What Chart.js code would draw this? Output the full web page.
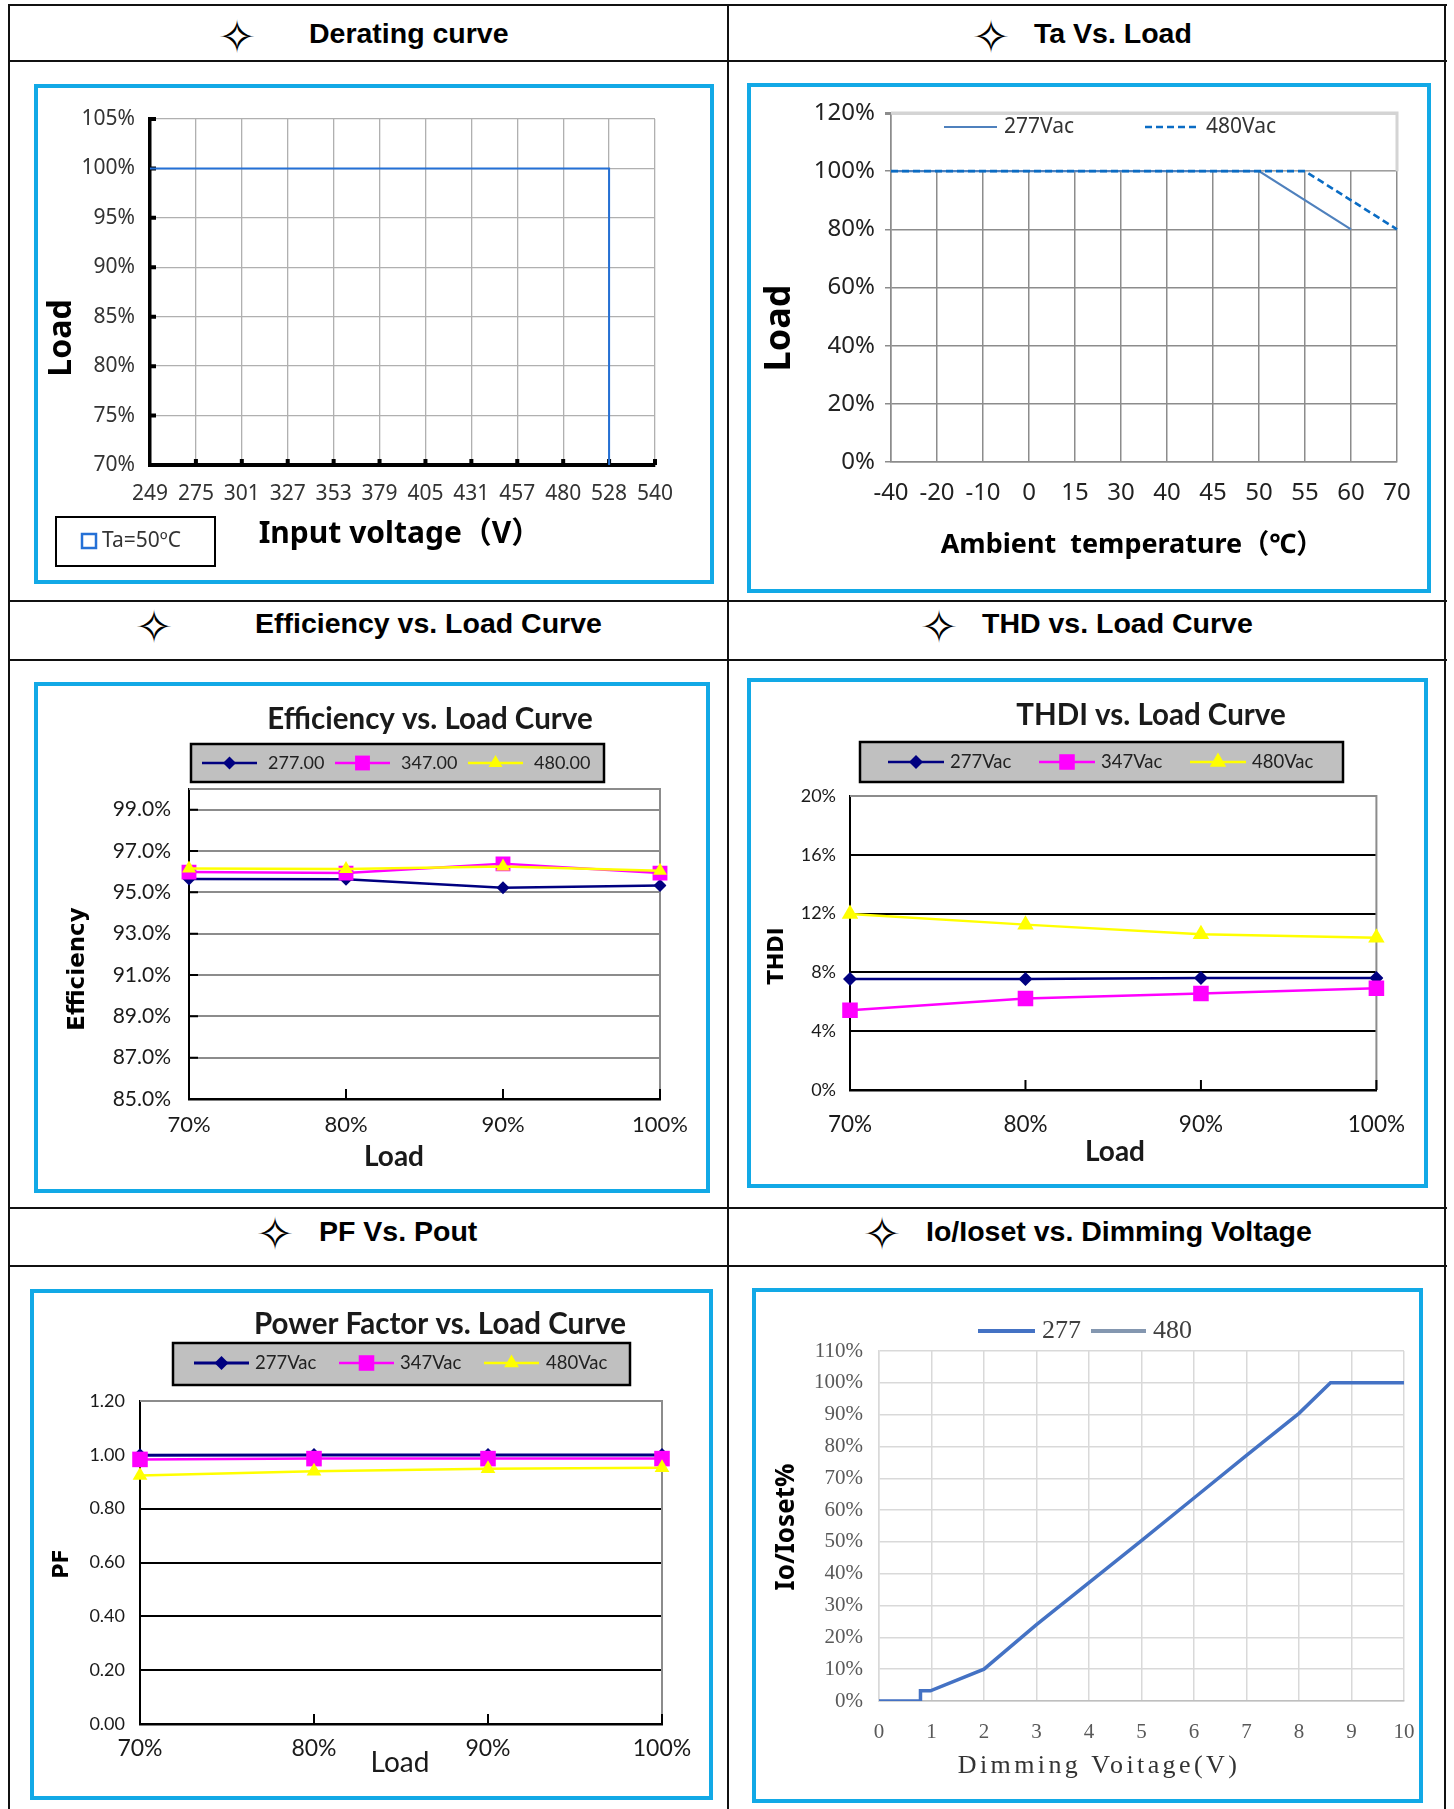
<!DOCTYPE html>
<html>
<head>
<meta charset="utf-8">
<title>Driver curves</title>
<script src="https://cdn.jsdelivr.net/npm/chart.js"></script>
<style>
  html, body { margin: 0; padding: 0; background: #fff; }
  body { position: relative; width: 1454px; height: 1809px; overflow: hidden; }
  .rule { position: absolute; background: #111; }
  .hd { position: absolute; font: bold 28.5px "Liberation Sans", Arial, sans-serif; line-height: 28.5px; white-space: nowrap; color: #000; }
  .star { position: absolute; width: 60px; text-align: center; font: 46px "DejaVu Sans", sans-serif; line-height: 46px; color: #000; }
  canvas { position: absolute; }
  .frame { position: absolute; border: 4px solid #12a9e6; box-sizing: border-box; pointer-events: none; }
</style>
</head>
<body>
<!-- table rules -->
<div class="rule" style="left:8px;top:4px;width:1439px;height:2px"></div>
<div class="rule" style="left:8px;top:60px;width:1439px;height:2px"></div>
<div class="rule" style="left:8px;top:600px;width:1439px;height:2px"></div>
<div class="rule" style="left:8px;top:659px;width:1439px;height:2px"></div>
<div class="rule" style="left:8px;top:1207px;width:1439px;height:2px"></div>
<div class="rule" style="left:8px;top:1265px;width:1439px;height:2px"></div>
<div class="rule" style="left:8px;top:4px;width:2px;height:1805px"></div>
<div class="rule" style="left:727px;top:4px;width:2px;height:1805px"></div>
<div class="rule" style="left:1444px;top:4px;width:2px;height:1805px"></div>

<!-- headers -->
<div class="star" style="left:207px;top:13.5px">✧</div>
<div class="hd" style="left:309px;top:18.6px">Derating curve</div>
<div class="star" style="left:961px;top:13.5px">✧</div>
<div class="hd" style="left:1034px;top:18.6px">Ta Vs. Load</div>
<div class="star" style="left:124px;top:603.8px">✧</div>
<div class="hd" style="left:255px;top:609.4px">Efficiency vs. Load Curve</div>
<div class="star" style="left:909px;top:603.8px">✧</div>
<div class="hd" style="left:982px;top:609.4px">THD vs. Load Curve</div>
<div class="star" style="left:245px;top:1210.8px">✧</div>
<div class="hd" style="left:319px;top:1216.8px">PF Vs. Pout</div>
<div class="star" style="left:852px;top:1210.8px">✧</div>
<div class="hd" style="left:926px;top:1216.8px">Io/Ioset vs. Dimming Voltage</div>

<canvas id="derate"></canvas>
<canvas id="taload"></canvas>
<canvas id="eff"></canvas>
<canvas id="thd"></canvas>
<canvas id="pf"></canvas>
<canvas id="dim"></canvas>

<script>
// ---------- data ----------
const voltTicks = ['249', '275', '301', '327', '353', '379', '405', '431', '457', '480', '528', '540'];
const derateVolt = ['249', '528', '528'];
const derateLoad = [100, 100, 70];

const taTicks = ['-40', '-20', '-10', '0', '15', '30', '40', '45', '50', '55', '60', '70'];
const ta277 = [100, 100, 100, 100, 100, 100, 100, 100, 100, null, 80, null];
const ta480 = [100, 100, 100, 100, 100, 100, 100, 100, 100, 100, null, 80];

const loadTicks = ['70%', '80%', '90%', '100%'];
const effNames = ['277.00', '347.00', '480.00'];
const eff277 = [95.65, 95.63, 95.22, 95.33];
const eff347 = [95.98, 95.93, 96.38, 95.93];
const eff480 = [96.15, 96.13, 96.25, 96.05];
const effTicks = [85, 87, 89, 91, 93, 95, 97, 99];

const vacNames = ['277Vac', '347Vac', '480Vac'];
const thd277 = [7.55, 7.55, 7.62, 7.62];
const thd347 = [5.42, 6.22, 6.56, 6.92];
const thd480 = [11.97, 11.25, 10.6, 10.35];

const pf277 = [0.998, 0.999, 0.999, 0.999];
const pf347 = [0.983, 0.986, 0.986, 0.986];
const pf480 = [0.923, 0.939, 0.948, 0.952];

const dimVolt = [0, 0.79, 0.79, 0.98, 2, 3, 4, 5, 6, 7, 8, 8.6, 10];
const dim277 = [0, 0, 3.2, 3.2, 10, 24, 37.2, 50.4, 63.8, 77.2, 90.4, 100, 100];
const dim480 = [];

// ---------- fonts / colours ----------
const NOTO = '"Noto Sans", "Noto Sans CJK SC", sans-serif';
const LATO = 'Lato, "Noto Sans", sans-serif';
const SERIF = '"Liberation Serif", "DejaVu Serif", serif';
const DJV = '"DejaVu Sans", sans-serif';
const NAVY = '#000080', PINK = '#ff00ff', YEL = '#ffff00';

// ---------- small plugins ----------
function marker(c, style, x, y, r, color) {
  c.beginPath();
  if (style === 'rectRot') {
    c.moveTo(x, y - r); c.lineTo(x + r, y); c.lineTo(x, y + r); c.lineTo(x - r, y);
  } else if (style === 'rect') {
    const h = r * Math.SQRT1_2;
    c.rect(x - h, y - h, 2 * h, 2 * h);
  } else if (style === 'triangle') {
    for (let k = 0; k < 3; k++) {
      const a = k * 2 * Math.PI / 3;
      const px = x + Math.sin(a) * r, py = y - Math.cos(a) * r;
      k ? c.lineTo(px, py) : c.moveTo(px, py);
    }
  }
  c.closePath();
  c.fillStyle = color;
  c.fill();
}

// free text (titles) in page coordinates
const pageText = (ox, oy, items) => ({
  id: 'pageText',
  afterDraw(chart) {
    const c = chart.ctx;
    items.forEach(t => {
      c.save();
      c.translate(t.x - ox, t.y - oy);
      if (t.rot) c.rotate(-Math.PI / 2);
      c.font = t.font;
      c.fillStyle = t.color || '#000';
      c.textAlign = 'center';
      c.textBaseline = 'middle';
      if (t.ls) c.letterSpacing = t.ls;
      c.fillText(t.text, 0, 0);
      c.restore();
    });
  }
});

// excel style legend, drawn from the datasets
const sheetLegend = (ox, oy, lg) => ({
  id: 'sheetLegend',
  afterDraw(chart) {
    const c = chart.ctx;
    c.save();
    c.translate(-ox, -oy);
    if (lg.rect) {
      const [x1, y1, x2, y2] = lg.rect;
      c.fillStyle = lg.fill || '#fff';
      c.fillRect(x1, y1, x2 - x1, y2 - y1);
      c.lineWidth = lg.lw || 2;
      c.strokeStyle = '#000';
      c.strokeRect(x1, y1, x2 - x1, y2 - y1);
    }
    lg.items.forEach((it, i) => {
      const ds = chart.data.datasets[i];
      if (it.line) {
        c.beginPath();
        c.setLineDash(ds.borderDash || []);
        c.strokeStyle = ds.borderColor;
        c.lineWidth = it.lw || ds.borderWidth;
        c.moveTo(it.line[0], lg.y);
        c.lineTo(it.line[1], lg.y);
        c.stroke();
        c.setLineDash([]);
        if (ds.pointRadius) marker(c, ds.pointStyle, (it.line[0] + it.line[1]) / 2, lg.y, ds.pointRadius, ds.pointBackgroundColor);
      }
      if (it.box) {
        c.strokeStyle = ds.borderColor;
        c.lineWidth = 2.5;
        c.strokeRect(it.box[0], lg.y - 7, it.box[1] - it.box[0], 14);
      }
      c.font = lg.font;
      c.fillStyle = lg.color || '#222';
      c.textAlign = 'left';
      c.textBaseline = 'middle';
      c.fillText(ds.label, it.text, lg.y);
    });
    c.restore();
  }
});

// short tick marks pointing into the plot
const innerTicks = spec => ({
  id: 'innerTicks',
  beforeDatasetsDraw(chart) {
    const c = chart.ctx, a = chart.chartArea;
    c.save();
    c.strokeStyle = spec.color || '#000';
    c.lineWidth = spec.width;
    c.beginPath();
    if (spec.x) chart.scales.x.ticks.forEach((t, i) => {
      if (i === 0) return;
      const px = chart.scales.x.getPixelForTick(i);
      c.moveTo(px, a.bottom); c.lineTo(px, a.bottom - spec.x);
    });
    if (spec.y) chart.scales.y.ticks.forEach((t, i) => {
      const py = chart.scales.y.getPixelForTick(i);
      c.moveTo(a.left, py); c.lineTo(a.left + spec.y, py);
    });
    c.stroke();
    c.restore();
  }
});

// top / right plot border (and optional white band above a value)
const plotFrame = spec => ({
  id: 'plotFrame',
  beforeDatasetsDraw(chart) {
    const c = chart.ctx, a = chart.chartArea;
    c.save();
    let bottom = a.bottom;
    if (spec.band != null) {
      bottom = chart.scales.y.getPixelForValue(spec.band);
      c.fillStyle = '#fff';
      c.fillRect(a.left + 1, a.top + 2, a.width - 3, bottom - a.top - 3);
    }
    c.strokeStyle = spec.color;
    c.lineWidth = spec.width;
    c.beginPath();
    c.moveTo(a.left, a.top);
    c.lineTo(a.right, a.top);
    c.lineTo(a.right, bottom);
    c.stroke();
    c.restore();
  }
});

// place a canvas on its blue box and pin the plot area
function makeChart(id, box, plot, cfg, extra) {
  const cv = document.getElementById(id);
  cv.width = box[2] - box[0];
  cv.height = box[3] - box[1];
  cv.style.left = box[0] + 'px';
  cv.style.top = box[1] + 'px';
  const fr = document.createElement('div');
  fr.className = 'frame';
  fr.style.left = (box[0] - 2) + 'px';
  fr.style.top = (box[1] - 2) + 'px';
  fr.style.width = (box[2] - box[0] + 4) + 'px';
  fr.style.height = (box[3] - box[1] + 4) + 'px';
  document.body.appendChild(fr);

  const o = cfg.options;
  o.responsive = false;
  o.animation = false;
  o.events = [];
  o.layout = { padding: { left: 0, top: plot[1] - box[1], right: box[2] - plot[2], bottom: 0 } };
  o.scales.x.afterFit = s => { s.height = box[3] - plot[3]; };
  o.scales.y.afterFit = s => { s.width = plot[0] - box[0]; };
  o.plugins = { legend: { display: false }, tooltip: { enabled: false }, title: { display: false } };
  cfg.plugins = [
    ...(extra.before || []),
    sheetLegend(box[0], box[1], extra.legend),
    pageText(box[0], box[1], extra.text)
  ];
  return new Chart(cv, cfg);
}

// ---------- 1. Derating curve ----------
makeChart('derate', [36, 86, 712, 582], [150, 119, 655, 465], {
  type: 'line',
  data: {
    datasets: [{
      label: 'Ta=50ºC',
      data: derateVolt.map((v, i) => ({ x: voltTicks.indexOf(v), y: derateLoad[i] })),
      borderColor: '#2470d6', borderWidth: 2, pointRadius: 0
    }]
  },
  options: {
    scales: {
      x: {
        type: 'linear', min: 0, max: voltTicks.length - 1,
        ticks: { stepSize: 1, autoSkip: false, maxRotation: 0, padding: 16, color: '#333',
          font: { family: NOTO, size: 21 }, callback: v => voltTicks[v] },
        grid: { color: '#b0b0b0', lineWidth: 1.3, drawTicks: false },
        border: { color: '#000', width: 4 }
      },
      y: {
        min: 70, max: 105,
        ticks: { stepSize: 5, padding: 15, color: '#333', font: { family: NOTO, size: 21 }, callback: v => v + '%' },
        grid: { color: '#b0b0b0', lineWidth: 1.3, drawTicks: false },
        border: { color: '#000', width: 3.5 }
      }
    }
  }
}, {
  before: [innerTicks({ x: 6, y: 6, width: 4 })],
  legend: { rect: [56, 517, 215, 566], fill: '#fff', lw: 2, y: 541, font: '21px ' + NOTO, color: '#333',
    items: [{ box: [82, 96], text: 102 }] },
  text: [
    { text: 'Load', x: 62, y: 338, rot: true, font: 'bold 32px ' + NOTO },
    { text: 'Input voltage（V）', x: 400, y: 534, font: 'bold 30px ' + NOTO }
  ]
});

// ---------- 2. Ta vs Load ----------
makeChart('taload', [749, 85, 1429, 591], [891, 113, 1397, 462], {
  type: 'line',
  data: {
    labels: taTicks,
    datasets: [
      { label: '277Vac', data: ta277, borderColor: '#4f81bd', borderWidth: 2.2, pointRadius: 0, spanGaps: true, order: 2 },
      { label: '480Vac', data: ta480, borderColor: '#0a6cc4', borderWidth: 2.6, borderDash: [7, 4], pointRadius: 0, spanGaps: true, order: 1 }
    ]
  },
  options: {
    scales: {
      x: {
        type: 'category', offset: false,
        ticks: { autoSkip: false, maxRotation: 0, padding: 17, color: '#222', font: { family: NOTO, size: 24 } },
        grid: { offset: false, drawTicks: false, color: '#8c8c8c', lineWidth: 1.5 },
        border: { color: '#8c8c8c', width: 1.5 }
      },
      y: {
        min: 0, max: 120,
        ticks: { stepSize: 20, padding: 10, color: '#222', font: { family: NOTO, size: 24 }, callback: v => v + '%' },
        grid: { color: c => c.tick.value === 120 ? '#d4d4d4' : '#8c8c8c', lineWidth: c => c.tick.value === 120 ? 3 : 1.5,
          tickLength: 6, tickColor: '#8c8c8c' },
        border: { color: '#8c8c8c', width: 1.5 }
      }
    }
  }
}, {
  before: [plotFrame({ band: 100, color: '#d4d4d4', width: 3 })],
  legend: { y: 127, font: '21px ' + NOTO, color: '#333',
    items: [{ line: [944, 997], text: 1004 }, { line: [1145, 1196], text: 1206 }] },
  text: [
    { text: 'Load', x: 780, y: 328, rot: true, font: 'bold 36px ' + NOTO },
    { text: 'Ambient  temperature（℃）', x: 1132, y: 545, font: 'bold 27px ' + NOTO }
  ]
});

// shared pieces for the three excel charts
function vacSets(names, a, b, c, sizes) {
  return [
    { label: names[0], data: a, borderColor: NAVY, borderWidth: sizes[3], pointStyle: 'rectRot', pointRadius: sizes[0],
      pointBackgroundColor: NAVY, pointBorderWidth: 0, order: 3 },
    { label: names[1], data: b, borderColor: PINK, borderWidth: 2.5, pointStyle: 'rect', pointRadius: sizes[1],
      pointBackgroundColor: PINK, pointBorderWidth: 0, order: 2 },
    { label: names[2], data: c, borderColor: YEL, borderWidth: 2.5, pointStyle: 'triangle', pointRadius: sizes[2],
      pointBackgroundColor: YEL, pointBorderWidth: 0, order: 1 }
  ];
}
function loadAxis(pad, size) {
  return {
    type: 'category', offset: false,
    ticks: { autoSkip: false, maxRotation: 0, padding: pad, color: '#1a1a1a', font: { family: LATO, size: size } },
    grid: { display: false, drawTicks: false, offset: false },
    border: { color: '#000', width: 2.5 }
  };
}

// ---------- 3. Efficiency ----------
makeChart('eff', [36, 684, 708, 1191], [189, 789, 660, 1099], {
  type: 'line',
  data: { labels: loadTicks, datasets: vacSets(effNames, eff277, eff347, eff480, [6.5, 10.5, 8, 2.5]) },
  options: {
    scales: {
      x: loadAxis(13, 22),
      y: {
        min: 85, max: 100,
        afterBuildTicks: s => { s.ticks = effTicks.map(v => ({ value: v })); },
        ticks: { padding: 18, color: '#1a1a1a', font: { family: LATO, size: 21 }, callback: v => v.toFixed(1) + '%' },
        grid: { color: '#8c8c8c', lineWidth: 2, drawTicks: false },
        border: { color: '#000', width: 2 }
      }
    }
  }
}, {
  before: [plotFrame({ color: '#8c8c8c', width: 2 }), innerTicks({ x: 10, y: 9, width: 2 })],
  legend: { rect: [191, 744, 604, 782], fill: '#c0c0c0', lw: 2.5, y: 763, font: '18px ' + LATO,
    items: [{ line: [202, 257], text: 268 }, { line: [335, 390], text: 401 }, { line: [468, 523], text: 534 }] },
  text: [
    { text: 'Efficiency vs. Load Curve', x: 430, y: 719, font: 'bold 29.5px ' + LATO, color: '#1a1a1a' },
    { text: 'Efficiency', x: 78, y: 969, rot: true, font: 'bold 23px ' + DJV },
    { text: 'Load', x: 394, y: 1157, font: 'bold 28px ' + LATO, color: '#1a1a1a' }
  ]
});

// ---------- 4. THD ----------
makeChart('thd', [749, 680, 1426, 1186], [850, 796, 1377, 1090], {
  type: 'line',
  data: { labels: loadTicks, datasets: vacSets(vacNames, thd277, thd347, thd480, [7, 11, 9.5, 2.5]) },
  options: {
    scales: {
      x: loadAxis(21, 22.5),
      y: {
        min: 0, max: 20,
        ticks: { stepSize: 4, padding: 14, color: '#1a1a1a', font: { family: LATO, size: 18 }, callback: v => v + '%' },
        grid: { color: c => c.tick.value >= 20 ? 'rgba(0,0,0,0)' : '#000', lineWidth: 2, drawTicks: false },
        border: { color: '#000', width: 2 }
      }
    }
  }
}, {
  before: [plotFrame({ color: '#8c8c8c', width: 2 }), innerTicks({ x: 10, width: 2 })],
  legend: { rect: [860, 742, 1343, 782], fill: '#c0c0c0', lw: 2.5, y: 762, font: '18.5px ' + LATO,
    items: [{ line: [888, 944], text: 950 }, { line: [1039, 1095], text: 1101 }, { line: [1190, 1246], text: 1252 }] },
  text: [
    { text: 'THDI vs. Load Curve', x: 1151, y: 715, font: 'bold 29.5px ' + LATO, color: '#1a1a1a' },
    { text: 'THDI', x: 778, y: 956, rot: true, font: 'bold 21px ' + DJV },
    { text: 'Load', x: 1115, y: 1152, font: 'bold 28px ' + LATO, color: '#1a1a1a' }
  ]
});

// ---------- 5. PF ----------
makeChart('pf', [32, 1291, 711, 1798], [140, 1401, 662, 1724], {
  type: 'line',
  data: { labels: loadTicks, datasets: vacSets(vacNames, pf277, pf347, pf480, [7, 11, 8.5, 3]) },
  options: {
    scales: {
      x: loadAxis(11, 23),
      y: {
        min: 0, max: 1.2,
        ticks: { stepSize: 0.2, padding: 15, color: '#1a1a1a', font: { family: LATO, size: 18 }, callback: v => v.toFixed(2) },
        grid: { color: c => c.tick.value > 1.19 ? 'rgba(0,0,0,0)' : '#000', lineWidth: 2, drawTicks: false },
        border: { color: '#000', width: 2 }
      }
    }
  }
}, {
  before: [plotFrame({ color: '#8c8c8c', width: 2 }), innerTicks({ x: 10, width: 2 })],
  legend: { rect: [173, 1343, 630, 1385], fill: '#c0c0c0', lw: 2.5, y: 1363, font: '18.5px ' + LATO,
    items: [{ line: [194, 249], text: 255 }, { line: [339, 394], text: 400 }, { line: [484, 539], text: 546 }] },
  text: [
    { text: 'Power Factor vs. Load Curve', x: 440, y: 1324, font: 'bold 29.5px ' + LATO, color: '#1a1a1a' },
    { text: 'PF', x: 63, y: 1564, rot: true, font: 'bold 21px ' + DJV },
    { text: 'Load', x: 400, y: 1763, font: '28px ' + LATO, color: '#1a1a1a' }
  ]
});

// ---------- 6. Io/Ioset vs dimming voltage ----------
makeChart('dim', [754, 1290, 1421, 1801], [879, 1351, 1404, 1701], {
  type: 'line',
  data: {
    datasets: [
      { label: '277', data: dimVolt.map((v, i) => ({ x: v, y: dim277[i] })), borderColor: '#4472c4', borderWidth: 3.5, pointRadius: 0 },
      { label: '480', data: dim480, borderColor: '#8497b0', borderWidth: 3.5, pointRadius: 0 }
    ]
  },
  options: {
    scales: {
      x: {
        type: 'linear', min: 0, max: 10,
        // gap under the axis comes from an invisible tick mark so the last label does not squeeze the plot
        ticks: { stepSize: 1, maxRotation: 0, padding: 0, color: '#595959', font: { family: SERIF, size: 21 } },
        grid: { color: '#d9d9d9', lineWidth: 1.5, drawTicks: true, tickLength: 19, tickColor: 'rgba(0,0,0,0)' },
        border: { color: '#bfbfbf', width: 1.5 }
      },
      y: {
        min: 0, max: 110,
        ticks: { stepSize: 10, padding: 16, color: '#595959', font: { family: SERIF, size: 21 }, callback: v => v + '%' },
        grid: { color: '#d9d9d9', lineWidth: 1.5, drawTicks: false },
        border: { color: '#d9d9d9', width: 1.5 }
      }
    }
  }
}, {
  legend: { y: 1331, font: '26px ' + SERIF, color: '#404040',
    items: [{ line: [978, 1035], text: 1042, lw: 4 }, { line: [1091, 1146], text: 1153, lw: 4 }] },
  text: [
    { text: 'Io/Ioset%', x: 787, y: 1527, rot: true, font: 'bold 26px ' + NOTO },
    { text: 'Dimming Voitage(V)', x: 1099, y: 1766, font: '26px ' + SERIF, color: '#333', ls: '3.4px' }
  ]
});
</script>
</body>
</html>
